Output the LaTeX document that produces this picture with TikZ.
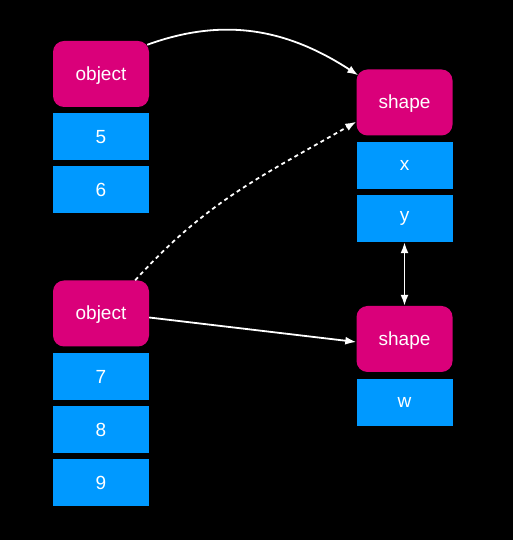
\documentclass[tikz,border=0pt]{standalone}
\usepackage{fontspec}
\setmainfont{Liberation Sans}
\usetikzlibrary{arrows.meta}
\definecolor{objpink}{RGB}{218,0,122}
\definecolor{fieldblue}{RGB}{0,153,255}

\begin{document}
\begin{tikzpicture}[x=1pt,y=1pt,>={Latex[length=11pt,width=8pt]},
  obj/.style={fill=objpink,rounded corners=11pt,minimum width=96pt,minimum height=66pt,
    text=white,font=\fontsize{19}{22}\selectfont,inner sep=0pt,text depth=1pt},
  field/.style={fill=fieldblue,minimum width=96pt,minimum height=47pt,
    text=white,font=\fontsize{19}{22}\selectfont,inner sep=0pt},
  link/.style={draw=white,line width=1.8pt}]

% Black background fixes the size of the page
\fill [black] (0,0) rectangle (513,540);

% The two objects and their fields
\node [obj] (obj1) at (101,466) {object};
\node [obj] (obj2) at (101,226.5) {object};
\foreach \name/\y/\lab in {f5/403/5, f6/350.5/6, f7/163.5/7, f8/110.5/8, f9/57.5/9} {
  \node [field] (\name) at (101,\y) {\lab};
}

% The two shapes and their fields
\node [obj] (shape1) at (404.5,437.5) {shape};
\node [obj] (shape2) at (404.5,201) {shape};
\foreach \name/\y/\lab in {fx/374.5/x, fy/321.5/y, fw/137.5/w} {
  \node [field] (\name) at (404.5,\y) {\lab};
}

% Links between objects and shapes
\coordinate (a1) at ([xshift=-2pt,yshift=-4pt]obj1.north east);
\coordinate (b1) at ([xshift=2pt,yshift=-6pt]shape1.north west);
\draw [link,->] (a1) to [out=20,in=147] (b1);
\draw [link,->,dash pattern=on 4pt off 3.5pt] ([xshift=-14pt]obj2.north east)
  to [out=48,in=-150] ([yshift=14pt]shape1.south west);
\draw [link,->] ([yshift=-4pt]obj2.east) -- ([yshift=-3pt]shape2.west);
\draw [link,<->] (fy.south) -- (shape2.north);
\end{tikzpicture}
\end{document}
